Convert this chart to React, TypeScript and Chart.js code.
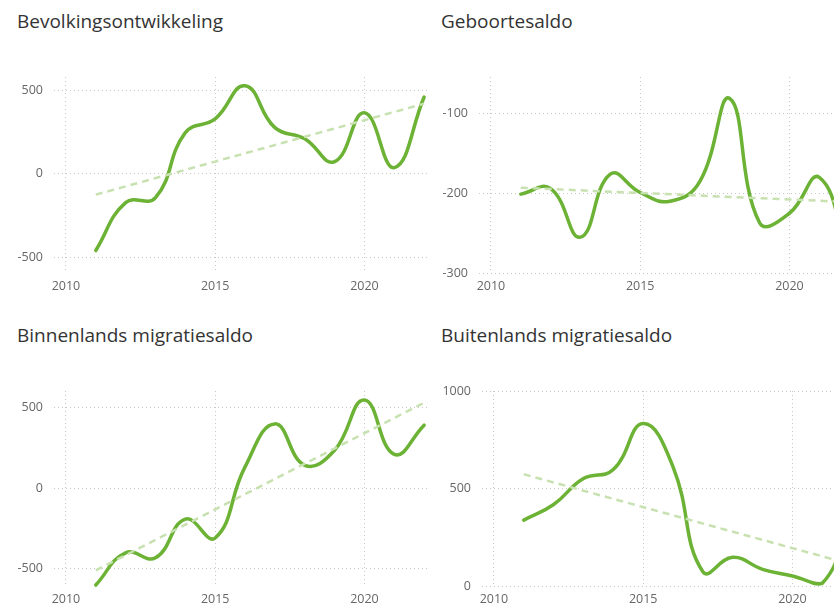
import React, { useEffect, useRef } from "react";
import { Chart, registerables } from "chart.js";

Chart.register(...registerables);

// ---- Data ----
const years = [2011, 2012, 2013, 2014, 2015, 2016, 2017, 2018, 2019, 2020, 2021, 2022];
const trendYears = [2011, 2022];
const xTickYears = [2010, 2015, 2020];

const bevolking = [-461, -174, -144, 246, 329, 527, 276, 210, 72, 365, 36, 460];
const bevolkingTrend = [-126, 420];
const bevolkingTicks = [-500, 0, 500];

const geboorte = [-201, -194, -255, -176, -199, -210, -185, -81, -237, -225, -180, -282];
const geboorteTrend = [-193, -211];
const geboorteTicks = [-300, -200, -100];

const binnenlands = [-600, -400, -431, -191, -308, 133, 400, 143, 236, 548, 211, 392];
const binnenlandsTrend = [-509, 531];
const binnenlandsTicks = [-500, 0, 500];

const buitenlands = [338, 418, 551, 597, 833, 611, 73, 147, 85, 51, 14, 380];
const buitenlandsTrend = [573, 110];
const buitenlandsTicks = [0, 500, 1000];

// ---- Styling ----
const LINE_COLOR = "#6cb235";
const TREND_COLOR = "#c8e1b0";
const GRID_COLOR = "#c8c8c8";
const TICK_COLOR = "#666666";
const TITLE_COLOR = "#333333";
const FONT = "'Open Sans', 'Noto Sans', sans-serif";

const X_MIN = 2009.6;
const X_MAX = 2022.13;
const PLOT_W = 374;
const Y_AXIS_W = 50;
const PAD_TOP = 22;
const PAD_RIGHT = 6;
const X_AXIS_H = 26;

type PanelProps = {
  title: string;
  values: number[];
  trend: number[];
  yTicks: number[];
  yMin: number;
  yMax: number;
  plotLeft: number;
  plotTop: number;
  plotH: number;
  titleLeft: number;
  titleTop: number;
};

function Panel(p: PanelProps) {
  const ref = useRef<HTMLCanvasElement | null>(null);

  useEffect(() => {
    if (!ref.current) return;
    const chart = new Chart(ref.current, {
      type: "line",
      data: {
        datasets: [
          {
            data: trendYears.map((x, i) => ({ x, y: p.trend[i] })),
            borderColor: TREND_COLOR,
            borderWidth: 2.5,
            borderDash: [7, 5],
            pointRadius: 0,
            tension: 0,
            fill: false,
            clip: 8,
          },
          {
            data: years.map((x, i) => ({ x, y: p.values[i] })),
            borderColor: LINE_COLOR,
            borderWidth: 3.5,
            pointRadius: 0,
            tension: 0.45,
            fill: false,
            borderCapStyle: "round",
            borderJoinStyle: "round",
            clip: 8,
          },
        ],
      },
      options: {
        animation: false,
        responsive: false,
        maintainAspectRatio: false,
        devicePixelRatio: 1,
        layout: { padding: { top: PAD_TOP, right: PAD_RIGHT, left: 0, bottom: 0 } },
        plugins: {
          legend: { display: false },
          tooltip: { enabled: false },
          title: { display: false },
        },
        scales: {
          x: {
            type: "linear",
            min: X_MIN,
            max: X_MAX,
            afterBuildTicks: (axis: any) => {
              axis.ticks = xTickYears.map((v) => ({ value: v }));
            },
            afterFit: (axis: any) => {
              axis.height = X_AXIS_H;
            },
            grid: { color: GRID_COLOR, lineWidth: 1, drawTicks: false },
            border: { display: false, dash: [1, 3] },
            ticks: {
              color: TICK_COLOR,
              font: { family: FONT, size: 12.5 },
              padding: 6,
              maxRotation: 0,
              autoSkip: false,
              callback: (v: any) => String(v),
            },
          },
          y: {
            type: "linear",
            min: p.yMin,
            max: p.yMax,
            afterBuildTicks: (axis: any) => {
              axis.ticks = p.yTicks.map((v) => ({ value: v }));
            },
            afterFit: (axis: any) => {
              axis.width = Y_AXIS_W;
            },
            grid: { color: GRID_COLOR, lineWidth: 1, drawTicks: false },
            border: { display: false, dash: [1, 3] },
            ticks: {
              color: TICK_COLOR,
              font: { family: FONT, size: 12.5 },
              padding: 11,
              autoSkip: false,
              callback: (v: any) => String(v),
            },
          },
        },
      },
    } as any);
    return () => chart.destroy();
  }, []);

  const cw = Y_AXIS_W + PLOT_W + PAD_RIGHT;
  const ch = PAD_TOP + p.plotH + X_AXIS_H;

  return (
    <>
      <div
        style={{
          position: "absolute",
          left: p.titleLeft,
          top: p.titleTop,
          fontFamily: FONT,
          fontSize: 19,
          lineHeight: "19px",
          color: TITLE_COLOR,
          whiteSpace: "nowrap",
        }}
      >
        {p.title}
      </div>
      <canvas
        ref={ref}
        width={cw}
        height={ch}
        style={{
          position: "absolute",
          left: p.plotLeft - Y_AXIS_W,
          top: p.plotTop - PAD_TOP,
          width: cw,
          height: ch,
        }}
      />
    </>
  );
}

export default function App() {
  return (
    <div
      style={{
        position: "fixed",
        left: 0,
        top: 0,
        width: 834,
        height: 604,
        overflow: "hidden",
        background: "#ffffff",
      }}
    >
      <Panel
        title="Bevolkingsontwikkeling"
        values={bevolking}
        trend={bevolkingTrend}
        yTicks={bevolkingTicks}
        yMin={-596}
        yMax={580}
        plotLeft={54}
        plotTop={77}
        plotH={196}
        titleLeft={17}
        titleTop={12}
      />
      <Panel
        title="Geboortesaldo"
        values={geboorte}
        trend={geboorteTrend}
        yTicks={geboorteTicks}
        yMin={-300}
        yMax={-54}
        plotLeft={479}
        plotTop={77}
        plotH={196}
        titleLeft={441}
        titleTop={12}
      />
      <Panel
        title="Binnenlands migratiesaldo"
        values={binnenlands}
        trend={binnenlandsTrend}
        yTicks={binnenlandsTicks}
        yMin={-606}
        yMax={604}
        plotLeft={54}
        plotTop={391}
        plotH={195}
        titleLeft={17}
        titleTop={326}
      />
      <Panel
        title="Buitenlands migratiesaldo"
        values={buitenlands}
        trend={buitenlandsTrend}
        yTicks={buitenlandsTicks}
        yMin={0}
        yMax={1000}
        plotLeft={482}
        plotTop={391}
        plotH={195}
        titleLeft={441}
        titleTop={326}
      />
    </div>
  );
}
